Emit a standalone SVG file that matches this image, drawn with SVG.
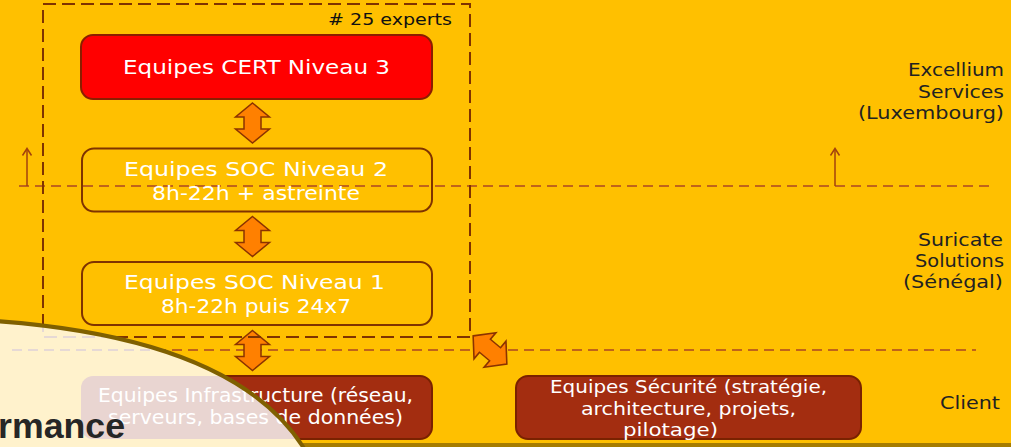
<svg xmlns="http://www.w3.org/2000/svg" width="1011" height="447" viewBox="0 0 1011 447">
<style>
.bg{fill:#FFC000}
.box{stroke-width:2}
.cert{fill:#FF0000;stroke:#8B1E00}
.soc{fill:none;stroke:#7F3300}
.cli{fill:#A32D10;stroke:#7A2200}
.wt{fill:#FFFFFF;font-family:"DejaVu Sans","Liberation Sans",sans-serif;font-size:19.5px;text-anchor:middle}
.sm{font-size:18px}
.lbl{fill:#222222;font-family:"DejaVu Sans","Liberation Sans",sans-serif;font-size:17px;text-anchor:end}
.dashbox{fill:none;stroke:#7F3300;stroke-width:2;stroke-dasharray:13 6}
.hline{fill:none;stroke:#C0641A;stroke-width:1.8;stroke-dasharray:10 6}
.dbl{fill:#FF8000;stroke:#8B3300;stroke-width:1.5;stroke-linejoin:miter}
.up{fill:none;stroke:#A3420C;stroke-width:1.5}
.ghost{fill:none;stroke:#E6D9D5;stroke-width:1.8;stroke-dasharray:10 6}
</style>
<defs>
<path id="dblv" d="M0,-20 L17,-6 L8.5,-6 L8.5,6 L17,6 L0,20 L-17,6 L-8.5,6 L-8.5,-6 L-17,-6 Z"/>
<clipPath id="ovclip"><path d="M-5,321 C120,330 250,360 305,450 L-5,450 Z"/></clipPath>
</defs>
<rect class="bg" x="0" y="0" width="1011" height="447"/>
<rect x="0" y="443" width="1011" height="4" fill="#A67C00"/>

<g id="connectors">
  <line class="hline" x1="19" y1="186" x2="992" y2="186"/>
  <line class="hline" x1="12" y1="350" x2="976" y2="350"/>
  <g id="up-arrow-left"><line class="up" x1="27" y1="186" x2="27" y2="149"/><polyline class="up" points="22.5,155.5 27,148.5 31.5,155.5"/></g>
  <g id="up-arrow-right"><line class="up" x1="835" y1="186" x2="835" y2="149"/><polyline class="up" points="830.5,155.5 835,148.5 839.5,155.5"/></g>
  <use href="#dblv" class="dbl" transform="translate(252.5,123)"/>
  <use href="#dblv" class="dbl" transform="translate(252.5,236.5)"/>
  <use href="#dblv" class="dbl" transform="translate(252.5,350.5)"/>
  <use href="#dblv" class="dbl" transform="translate(490,350) rotate(-50) scale(1,1.1)"/>
</g>

<g id="group-experts">
  <rect class="dashbox" x="43" y="4" width="427" height="333"/>
  <text x="328" y="25" textLength="124" lengthAdjust="spacingAndGlyphs" style="fill:#111;font-family:'DejaVu Sans','Liberation Sans',sans-serif;font-size:16px"># 25 experts</text>
</g>

<g id="node-cert">
  <rect class="box cert" x="81" y="35" width="351" height="64" rx="12"/>
  <text class="wt" x="256.5" y="74" textLength="267" lengthAdjust="spacingAndGlyphs">Equipes CERT Niveau 3</text>
</g>
<g id="node-soc2">
  <rect class="box soc" x="82" y="148.5" width="350" height="63" rx="12"/>
  <text class="wt" x="256" y="176" textLength="264" lengthAdjust="spacingAndGlyphs">Equipes SOC Niveau 2</text>
  <text class="wt" x="256" y="200" textLength="208" lengthAdjust="spacingAndGlyphs">8h-22h + astreinte</text>
</g>
<g id="node-soc1">
  <rect class="box soc" x="82" y="262" width="350" height="63" rx="12"/>
  <text class="wt" x="254.5" y="288.5" textLength="261" lengthAdjust="spacingAndGlyphs">Equipes SOC Niveau 1</text>
  <text class="wt" x="256" y="313" textLength="190" lengthAdjust="spacingAndGlyphs">8h-22h puis 24x7</text>
</g>
<g id="node-infra">
  <rect class="box cli" x="81" y="376" width="351" height="63" rx="12"/>
  <text class="wt" x="255.5" y="402" textLength="315" lengthAdjust="spacingAndGlyphs">Equipes Infrastructure (réseau,</text>
  <text class="wt" x="255.5" y="424" textLength="295" lengthAdjust="spacingAndGlyphs">serveurs, bases de données)</text>
</g>
<g id="node-securite">
  <rect class="box cli" x="516" y="376" width="345" height="63" rx="12"/>
  <text class="wt sm" x="688.5" y="393" textLength="277" lengthAdjust="spacingAndGlyphs">Equipes Sécurité (stratégie,</text>
  <text class="wt sm" x="688.5" y="414.5" textLength="215" lengthAdjust="spacingAndGlyphs">architecture, projets,</text>
  <text class="wt sm" x="670.5" y="435.5" textLength="95" lengthAdjust="spacingAndGlyphs">pilotage)</text>
</g>

<g id="label-excellium">
  <text class="lbl" x="1004" y="76" textLength="96" lengthAdjust="spacingAndGlyphs">Excellium</text>
  <text class="lbl" x="1004" y="98" textLength="86" lengthAdjust="spacingAndGlyphs">Services</text>
  <text class="lbl" x="1004" y="119" textLength="146" lengthAdjust="spacingAndGlyphs">(Luxembourg)</text>
</g>
<g id="label-suricate">
  <text class="lbl" x="1003" y="246" textLength="85" lengthAdjust="spacingAndGlyphs">Suricate</text>
  <text class="lbl" x="1004" y="267" textLength="89" lengthAdjust="spacingAndGlyphs">Solutions</text>
  <text class="lbl" x="1003" y="288" textLength="100" lengthAdjust="spacingAndGlyphs">(Sénégal)</text>
</g>
<g id="label-client">
  <text class="lbl" x="1000" y="409" textLength="60" lengthAdjust="spacingAndGlyphs">Client</text>
</g>

<g id="overlay">
  <path d="M-5,321 C120,330 250,360 305,450 L-5,450 Z" fill="#FFF2CC"/>
  <g clip-path="url(#ovclip)">
    <polyline points="43,300 43,337 470,337" fill="none" stroke="#E6D9D5" stroke-width="2" stroke-dasharray="13 6"/>
    <line class="ghost" x1="12" y1="350" x2="976" y2="350"/>
    <rect x="81" y="376" width="351" height="63" rx="12" fill="#E9D5D1"/>
    <text class="wt" x="255.5" y="402" textLength="315" lengthAdjust="spacingAndGlyphs">Equipes Infrastructure (réseau,</text>
    <text class="wt" x="255.5" y="424" textLength="295" lengthAdjust="spacingAndGlyphs">serveurs, bases de données)</text>
  </g>
  <path d="M-5,321 C120,330 250,360 305,450" fill="none" stroke="#7F6000" stroke-width="4"/>
  <text x="-2" y="438" textLength="127" lengthAdjust="spacingAndGlyphs" style="fill:#262626;font-family:'Liberation Sans',Arial,sans-serif;font-weight:bold;font-size:35px">rmance</text>
</g>
</svg>
